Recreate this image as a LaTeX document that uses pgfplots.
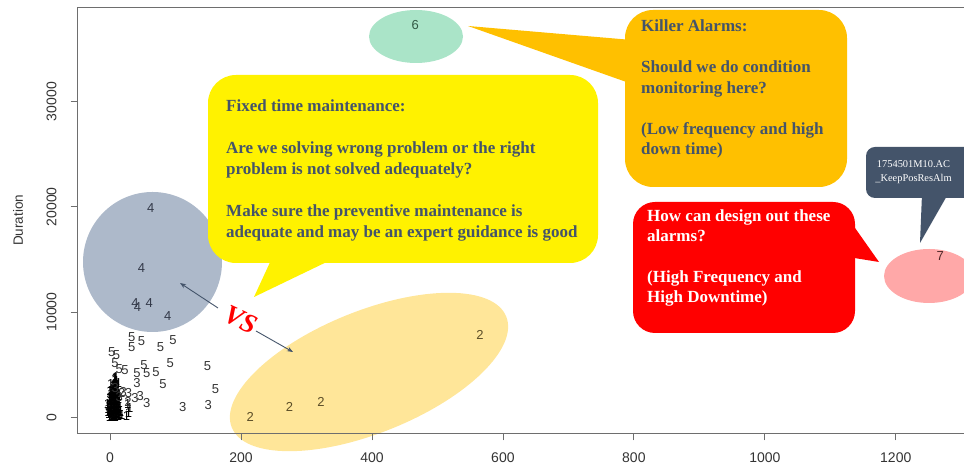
\documentclass[border=0pt]{standalone}
\usepackage{pgfplots}
\pgfplotsset{compat=1.18}
\usepackage{fontspec}
\setmainfont{Liberation Sans}
\newfontfamily\serif{Liberation Serif}
\usetikzlibrary{arrows.meta}
\definecolor{slate}{RGB}{68,84,106}
\definecolor{ellgrey}{RGB}{173,185,202}
\definecolor{ellyel}{RGB}{255,230,153}
\definecolor{ellgreen}{RGB}{170,228,200}
\definecolor{ellpink}{RGB}{255,168,168}
\definecolor{boxorange}{RGB}{255,192,0}
\definecolor{lab}{RGB}{51,51,51}
\definecolor{axisgray}{RGB}{110,110,110}
\definecolor{labfour}{RGB}{52,58,74}
\definecolor{labtwo}{RGB}{92,78,40}
\definecolor{labsix}{RGB}{50,90,70}
\definecolor{labseven}{RGB}{80,40,40}
\begin{document}
\begin{tikzpicture}[x=1pt,y=1pt]
\useasboundingbox (0,0) rectangle (964,470);
% cluster ellipses
\fill[ellgrey] (152.5,208) ellipse [x radius=69.5, y radius=70];
\fill[ellyel, rotate around={22:(369,98)}] (369,98) ellipse [x radius=148, y radius=61];
\fill[ellgreen] (416,433.5) ellipse [x radius=47, y radius=26.5];
\fill[ellpink] (929,194) ellipse [x radius=45, y radius=27];
\begin{axis}[
  at={(77.7pt,36.7pt)}, anchor=south west,
  scale only axis, width=903.2pt, height=426pt,
  xmin=-49.4, xmax=1330, ymin=-1521, ymax=38970,
  xtick={0,200,400,600,800,1000,1200},
  ytick={0,10000,20000,30000},
  scaled ticks=false,
  /pgf/number format/1000 sep={},
  /pgf/number format/assume math mode=true,
  tick pos=left, tick align=outside,
  major tick length=7pt,
  tick style={axisgray, line width=0.8pt},
  axis line style={axisgray, line width=0.8pt},
  xticklabel style={anchor=north, inner sep=0pt, yshift=-12pt, font=\fontsize{14}{14}\selectfont, text=lab},
  yticklabel style={xshift=-14pt, rotate=90, anchor=south, inner sep=0pt, font=\fontsize{14}{14}\selectfont, text=lab},
  ylabel={Duration},
  ylabel style={at={(axis description cs:-0.0606,0.5)}, anchor=base, inner sep=0pt, font=\fontsize{13.5}{13.5}\selectfont, text=lab},
  text mark as node=true,
  clip=false,
]
% cluster 1
\addplot[only marks, mark=text, text mark={1}, color=black, text mark style={inner sep=0pt, font=\fontsize{13}{13}\selectfont}] coordinates {
(0,0) (2,100) (4,50) (6,200) (8,0) (10,150) (12,80) (14,300)
(1,400) (3,600) (5,500) (7,700) (9,450) (11,600) (13,550)
(0,900) (2,1000) (4,1200) (6,850) (8,1100) (10,950) (12,1300) (15,1000)
(1,1500) (3,1700) (5,1400) (7,1600) (9,1800) (11,1500) (13,1700)
(2,2000) (4,2200) (6,1900) (8,2300) (10,2100) (12,2400)
(3,2600) (5,2800) (7,2500) (9,2700) (11,2900)
(6,3100) (8,3300) (10,3000) (7,3600) (9,3800) (8,3500)
(28,400) (30,900) (27,1300) (25,100) (-2,300) (-3,800) (-1,1800)
(0,2500) (14,2000) (16,500) (18,200) (-4,1300) (1,3200) (13,3300)
(-1,0) (3,0) (5,250) (7,350) (9,100) (11,300) (13,100) (15,250)
(-3,500) (-1,600) (1,700) (3,900) (5,800) (7,1000) (9,750) (11,850) (13,800) (15,600)
(-2,1100) (0,1200) (2,1300) (4,1500) (6,1300) (8,1500) (10,1300) (12,1100) (14,1400)
(-1,1600) (0,1900) (2,1700) (4,1900) (6,1700) (8,1900) (10,1700) (12,1900)
(1,2200) (3,2400) (5,2100) (7,2200) (9,2400) (11,2200)
(4,2600) (6,2700) (8,2800) (10,2600) (5,3000) (7,3200) (9,3200) (8,3700) (10,3400)
};
% cluster 3
\addplot[only marks, mark=text, text mark={3}, color=lab, text mark style={inner sep=0pt, font=\fontsize{13}{13}\selectfont}] coordinates {
(41,3290) (28,2340) (46,2020) (38,1800) (56,1330) (111,950) (150,1170) (20,2430) (8,2740) (14,1900)
};
% cluster 5
\addplot[only marks, mark=text, text mark={5}, color=lab, text mark style={inner sep=0pt, font=\fontsize{13}{13}\selectfont}] coordinates {
(33,7660) (48,7280) (33,6710) (96,7350) (77,6650) (2.6,6240) (10,5920) (7.6,5190)
(14,4560) (23,4500) (52,4970) (41,4180) (56,4180) (70,4340) (92,5190) (149,4880)
(81,3170) (161,2660)
};
% cluster 2
\addplot[only marks, mark=text, text mark={2}, color=labtwo, text mark style={inner sep=0pt, font=\fontsize{13}{13}\selectfont}] coordinates {
(565,7830) (214,0) (274,950) (322,1430)
};
\addplot[only marks, mark=text, text mark={2}, color=lab, text mark style={inner sep=0pt, font=\fontsize{13}{13}\selectfont}] coordinates {
(27.5,1460) (18,2320)
};
% cluster 4
\addplot[only marks, mark=text, text mark={4}, color=labfour, text mark style={inner sep=0pt, font=\fontsize{13}{13}\selectfont}] coordinates {
(62,19870) (48,14160) (38,10840) (42,10510) (60,10840) (88,9630)
};
% cluster 6
\addplot[only marks, mark=text, text mark={6}, color=labsix, text mark style={inner sep=0pt, font=\fontsize{13}{13}\selectfont}] coordinates {
(466,37300)
};
% cluster 7
\addplot[only marks, mark=text, text mark={7}, color=labseven, text mark style={inner sep=0pt, font=\fontsize{13}{13}\selectfont}] coordinates {
(1268,15330)
};
\end{axis}
% arrows and VS
\draw[slate, line width=0.9pt, -{Stealth[length=6pt,width=4.5pt]}] (218,162) -- (180,187);
\draw[slate, line width=0.9pt, -{Stealth[length=6pt,width=4.5pt]}] (256,139) -- (293,118);
\node[text=red, font=\serif\bfseries\itshape\fontsize{27}{27}\selectfont, rotate=-25] at (241,150) {VS};
% yellow callout
\fill[yellow, rounded corners=28pt] (208,207) rectangle (598,395);
\fill[yellow] (272,212) -- (254,173) -- (335,212) -- cycle;
% orange callout
\fill[boxorange, rounded corners=28pt] (625,283) rectangle (847,460);
\fill[boxorange] (632,430) -- (468,444) -- (632,386) -- cycle;
% red callout
\fill[red, rounded corners=22pt] (633,137) rectangle (855,268);
\fill[red] (848,252) -- (879,208) -- (848,213) -- cycle;
% dark callout
\fill[slate, rounded corners=9pt] (866,272) rectangle (980,323);
\fill[slate] (922,276) -- (920,227) -- (948,276) -- cycle;
% texts
\begin{scope}[every node/.style={anchor=base west, inner sep=0pt, font=\serif\bfseries\fontsize{17}{17}\selectfont}]
\node[text=slate] at (226,358) {Fixed time maintenance:};
\node[text=slate] at (226,316) {Are we solving wrong problem or the right};
\node[text=slate] at (226,295) {problem is not solved adequately?};
\node[text=slate] at (226,253) {Make sure the preventive maintenance is};
\node[text=slate] at (226,232) {adequate and may be an expert guidance is good};
\node[text=slate] at (641,438) {Killer Alarms:};
\node[text=slate] at (641,397) {Should we do condition};
\node[text=slate] at (641,376) {monitoring here?};
\node[text=slate] at (641,335) {(Low frequency and high};
\node[text=slate] at (641,315) {down time)};
\node[text=white] at (647,248) {How can design out these};
\node[text=white] at (647,228) {alarms?};
\node[text=white] at (647,187) {(High Frequency and};
\node[text=white] at (647,167) {High Downtime)};
\end{scope}
\node[anchor=base, inner sep=0pt, text=white, font=\serif\fontsize{10.4}{10.4}\selectfont] at (913.5,302) {1754501M10.AC};
\node[anchor=base, inner sep=0pt, text=white, font=\serif\fontsize{10.4}{10.4}\selectfont] at (913.5,288) {\_KeepPosResAlm};
\end{tikzpicture}
\end{document}
